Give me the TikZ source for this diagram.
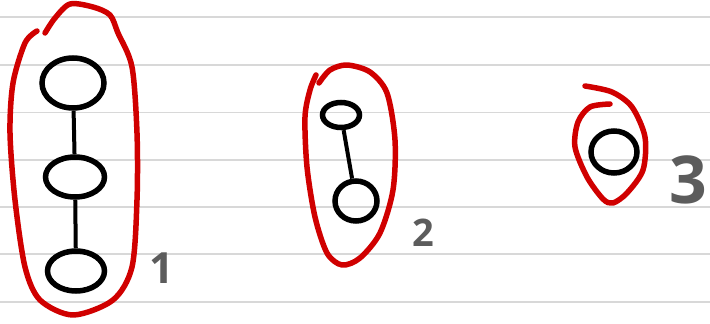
\documentclass[tikz,border=0pt]{standalone}
\usepackage{fontspec}
\setmainfont{Open Sans}
\usetikzlibrary{shapes.geometric}
\definecolor{ringred}{HTML}{D00000}
\definecolor{rulegray}{HTML}{D8D8D8}
\definecolor{taggray}{HTML}{5C5C5C}

\begin{document}
\begin{tikzpicture}[x=1pt, y=-1pt,
    every node/.style={align=center},
    vertex/.style={draw, ellipse, line width=5.5pt, inner sep=0pt},
    edge/.style  ={line width=4pt},
    ring/.style  ={draw=ringred, line width=5.5pt, line cap=round, line join=round},
    rule/.style  ={draw=rulegray, line width=1.6pt},
    tag/.style   ={text=taggray, font=\bfseries, inner sep=0pt}
]
\useasboundingbox (0,0) rectangle (710,324);
% ruled paper
\foreach \y in {17,65,112.5,160,207,254,302}
    \draw[rule] (0,\y) -- (710,\y);

% component 1
\node[vertex, minimum width=62pt, minimum height=50pt] (a1) at (73, 83)  {};
\node[vertex, minimum width=59pt, minimum height=40pt] (a2) at (75,177)  {};
\node[vertex, minimum width=57pt, minimum height=40pt] (a3) at (76,271)  {};
% component 2
\node[vertex, minimum width=37pt, minimum height=25pt] (b1) at (341,115) {};
\node[vertex, minimum width=42pt, minimum height=40pt] (b2) at (356,201) {};
% component 3
\node[vertex, minimum width=46pt, minimum height=42pt] (c1) at (614,152) {};

\draw[edge] (a1) -- (a2);
\draw[edge] (a2) -- (a3);
\draw[edge] (b1) -- (b2);

% red loops
\draw[ring] plot[smooth] coordinates {(45,33) (55,18) (70,4) (93,7) (110,15) (118,33)
    (132,67) (137,133) (137,200) (132,267) (113,300) (73,315) (40,300) (25,267)
    (15,200) (10,133) (13,83) (25,43) (37,31)};
\draw[ring] plot[smooth] coordinates {(319,83) (330,70) (347,65) (370,72) (387,93)
    (395,140) (393,190) (380,233) (360,258) (342,265) (327,253) (315,217)
    (307,167) (305,117) (310,90) (316,75)};
\draw[ring] plot[smooth] coordinates {(585,86) (612,92) (632,107) (645,137) (643,170)
    (627,193) (613,203) (603,199) (587,177) (575,147) (578,122) (590,107) (610,104)};

% labels
\node[tag, font=\bfseries\fontsize{43}{43}\selectfont] (n1) at (162,268) {1};
\node[tag, font=\bfseries\fontsize{38}{38}\selectfont] (n2) at (423,233) {2};
\node[tag, font=\bfseries\fontsize{66}{66}\selectfont] (n3) at (688,180) {3};
\end{tikzpicture}
\end{document}
